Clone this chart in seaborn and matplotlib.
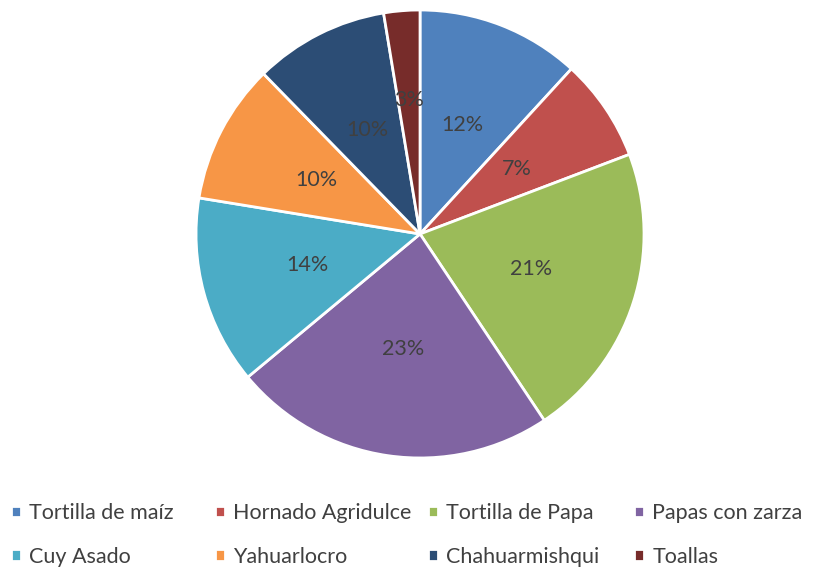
import matplotlib
matplotlib.use("Agg")
import matplotlib.pyplot as plt
import seaborn as sns
import numpy as np

# Data (shares in %)
platos = ["Tortilla de maíz", "Hornado Agridulce", "Tortilla de Papa", "Papas con zarza",
          "Cuy Asado", "Yahuarlocro", "Chahuarmishqui", "Toallas"]
porcentajes = [11.8, 7.4, 21.4, 23.3, 13.6, 10.1, 9.7, 2.6]
colores = ["#4F81BD", "#C0504D", "#9BBB59", "#8064A2",
           "#4BACC6", "#F79646", "#2C4D75", "#772C2A"]

sns.set_theme(style="white")
plt.rcParams['font.family'] = ['Lato', 'DejaVu Sans']

fig = plt.figure(figsize=(8.14, 5.68), dpi=100)
ax = fig.add_axes([0.2408, 0.1937, 0.5504, 0.7887])

wedges, texts, autotexts = ax.pie(
    porcentajes, colors=colores, startangle=90, counterclock=False,
    autopct='%1.0f%%', pctdistance=0.52,
    wedgeprops=dict(edgecolor='white', linewidth=2),
    textprops=dict(color='#404040', fontsize=15.5))
ax.set_xlim(-1, 1)
ax.set_ylim(-1, 1)
ax.set_aspect('equal')

# small slice label sits a bit further out, as in the original
x, y = autotexts[-1].get_position()
r = np.hypot(x, y)
autotexts[-1].set_position((x * 0.6 / r, y * 0.6 / r))

# legend: 4 fixed-width columns, 2 rows
col_x = [11, 215, 428, 634]
for j, cx in enumerate(col_x):
    leg = fig.legend([wedges[j], wedges[j + 4]], [platos[j], platos[j + 4]],
                     loc='upper left', bbox_to_anchor=(cx / 814, 1 - 503 / 568),
                     ncol=1, frameon=False, fontsize=15.5, labelcolor='#404040',
                     handlelength=0.45, handleheight=0.45, handletextpad=0.4,
                     borderpad=0, borderaxespad=0, labelspacing=1.1)

plt.savefig('out.png', dpi=100)
